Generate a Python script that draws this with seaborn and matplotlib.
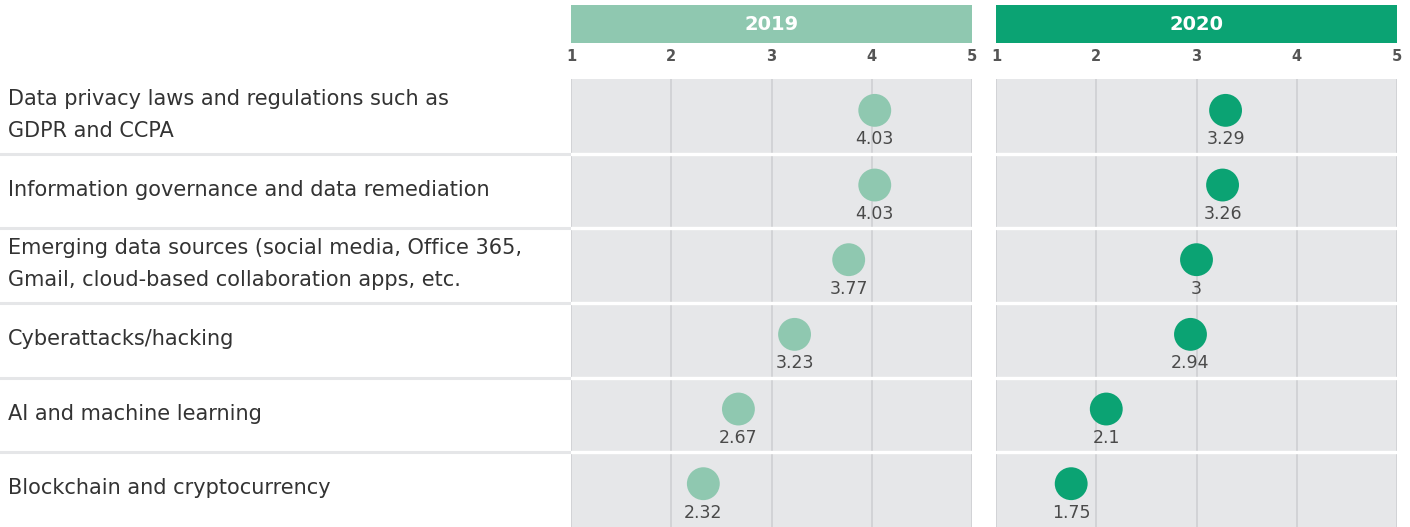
import numpy as np
import pandas as pd
import matplotlib.pyplot as plt
import matplotlib.transforms as mtransforms
import seaborn as sns

# data
categories = [
    "Data privacy laws and regulations such as\nGDPR and CCPA",
    "Information governance and data remediation",
    "Emerging data sources (social media, Office 365,\nGmail, cloud-based collaboration apps, etc.",
    "Cyberattacks/hacking",
    "AI and machine learning",
    "Blockchain and cryptocurrency",
]
values_2019 = [4.03, 4.03, 3.77, 3.23, 2.67, 2.32]
values_2020 = [3.29, 3.26, 3.00, 2.94, 2.10, 1.75]
years = ["2019", "2020"]
year_colors = {"2019": "#8fc8b0", "2020": "#0ba373"}
scale_ticks = [1, 2, 3, 4, 5]

df = pd.DataFrame({
    "category": categories * 2,
    "row": list(range(len(categories))) * 2,
    "year": ["2019"] * len(categories) + ["2020"] * len(categories),
    "value": values_2019 + values_2020,
})

sns.set_theme(style="white")
plt.rcParams["font.family"] = ["DejaVu Sans"]

fig = plt.figure(figsize=(14.1, 5.27), dpi=100)
panel_left = {"2019": 571 / 1410, "2020": 996 / 1410}
panel_w = 401 / 1410
plot_h = 448 / 527
head_bottom = 1 - 43 / 527
head_h = 38 / 527
bg = "#e6e7e9"
n = len(categories)

for yr in years:
    sub = df[df["year"] == yr].copy()
    sub["ypos"] = sub["row"] - 0.08

    ax = fig.add_axes([panel_left[yr], 0, panel_w, plot_h])
    ax.set_facecolor(bg)
    for t in scale_ticks:
        ax.axvline(t, color="#cdced1", lw=1.1, zorder=1)
    for b in np.arange(n - 1) + 0.5:
        ax.axhline(b, color="white", lw=2.4, zorder=2)

    sns.scatterplot(data=sub, x="value", y="ypos", ax=ax, s=560,
                    color=year_colors[yr], edgecolor="none", zorder=3,
                    legend=False)
    for _, r in sub.iterrows():
        lbl = f"{r['value']:g}"
        ax.text(r["value"], r["row"] + 0.31, lbl, ha="center", va="center",
                fontsize=12.5, color="#4a4a4a", zorder=4)

    ax.set_xlim(1, 5)
    ax.set_ylim(n - 0.5, -0.5)
    ax.set_xticks(scale_ticks)
    ax.xaxis.tick_top()
    ax.tick_params(axis="x", length=0, pad=11, labelsize=10.5, labelcolor="#555555")
    for tl in ax.get_xticklabels():
        tl.set_fontweight("bold")
    ax.set_yticks([])
    ax.set_xlabel("")
    ax.set_ylabel("")
    for s in ax.spines.values():
        s.set_visible(False)

    hax = fig.add_axes([panel_left[yr], head_bottom, panel_w, head_h])
    hax.set_facecolor(year_colors[yr])
    hax.set_xticks([])
    hax.set_yticks([])
    for s in hax.spines.values():
        s.set_visible(False)
    hax.text(0.5, 0.5, yr, ha="center", va="center", color="white",
             fontsize=14, fontweight="bold", transform=hax.transAxes)

    if yr == "2019":
        trans = mtransforms.blended_transform_factory(fig.transFigure, ax.transData)
        for i, c in enumerate(categories):
            ax.text(8 / 1410, i - 0.02, c, ha="left", va="center", fontsize=15,
                    color="#333333", linespacing=1.75, transform=trans)
        for b in np.arange(n - 1) + 0.5:
            ax.plot([0, panel_left[yr]], [b, b], color="#e5e6e8", lw=2.2,
                    transform=trans, clip_on=False, zorder=0)

plt.savefig("out.png", dpi=100)
